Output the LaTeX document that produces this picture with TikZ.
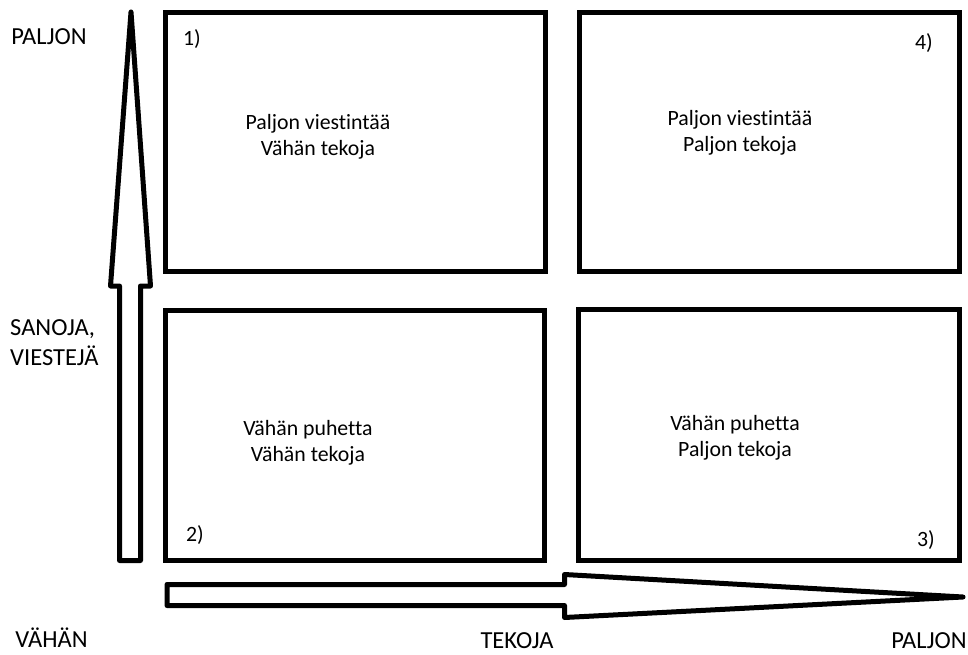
\documentclass[tikz,border=0pt]{standalone}
\usepackage{fontspec}
\setmainfont{Carlito}[Ligatures=NoCommon]
\usepackage{tikz}
\usetikzlibrary{positioning}

\begin{document}
\begin{tikzpicture}[x=1pt, y=-1pt,
    quad/.style={draw=black, line width=5pt},
    bigarrow/.style={draw=black, line width=5pt, line join=round},
    txt/.style={font=\fontsize{21.8}{26}\selectfont, align=center, inner sep=0pt},
    axis/.style={font=\fontsize{24.5}{30}\selectfont, inner sep=0pt, anchor=base}]
  \useasboundingbox (0,0) rectangle (968,655);

  % the four boxes
  \draw[quad] (165.5,12.5) rectangle (545,271);
  \draw[quad] (579.5,12.5) rectangle (959,271);
  \draw[quad] (165.5,310) rectangle (544,560.5);
  \draw[quad] (578,309) rectangle (959,560.5);

  % hollow arrows
  \draw[bigarrow] (119.5,560.5) -- (119.5,286) -- (110.5,286) -- (131,12)
    -- (150.5,286) -- (140.5,286) -- (140.5,560.5) -- cycle;
  \draw[bigarrow] (167,584.5) -- (564.5,584.5) -- (564.5,574.5) -- (963,597)
    -- (564.5,617.5) -- (564.5,605.5) -- (167,605.5) -- cycle;

  % box texts
  \node[txt] (t1) at (318,137) {Paljon viestintää\\Vähän tekoja};
  \node[txt] (t4) at (740,133) {Paljon viestintää\\Paljon tekoja};
  \node[txt] (t2) at (308,443) {Vähän puhetta\\Vähän tekoja};
  \node[txt] (t3) at (735,438) {Vähän puhetta\\Paljon tekoja};

  \node[txt] (n1) at (192,39) {1)};
  \node[txt] (n4) at (924,43) {4)};
  \node[txt] (n2) at (195,535) {2)};
  \node[txt] (n3) at (926,540) {3)};

  % axis labels
  \node[axis] (ytop) at (49,45) {PALJON};
  \node[axis, anchor=base west] (ysan) at (10,335) {SANOJA,};
  \node[axis, anchor=base west] (yvie) at (10,365) {VIESTEJÄ};
  \node[axis] (ybot) at (51.5,647) {VÄHÄN};
  \node[axis] (xname) at (517,648) {TEKOJA};
  \node[axis] (xtop) at (929,648) {PALJON};

\end{tikzpicture}
\end{document}
